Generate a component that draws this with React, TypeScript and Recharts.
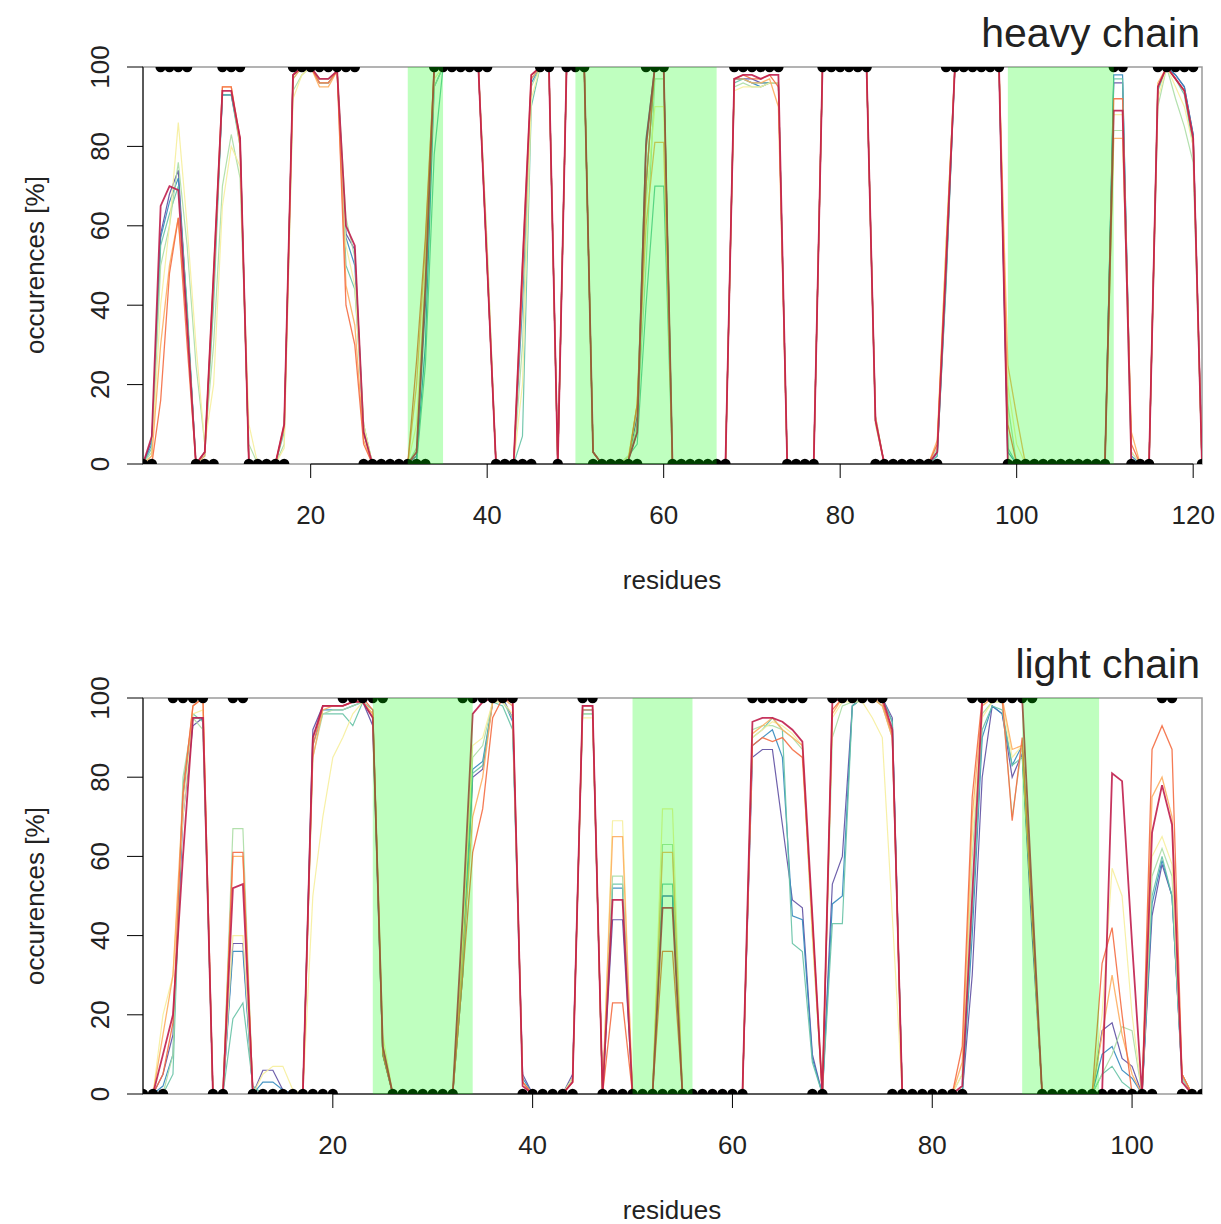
import { ComposedChart, Line, XAxis, YAxis, ReferenceArea, ReferenceLine } from 'recharts';

const FONT = '"Liberation Sans", Arial, sans-serif';

// reference residue state (0 = absent, 100 = present), one value per residue
const heavyRef = [
  0, 0, 100, 100, 100, 100, 0, 0, 0, 100,
  100, 100, 0, 0, 0, 0, 0, 100, 100, 100,
  100, 100, 100, 100, 100, 0, 0, 0, 0, 0,
  0, 0, 0, 100, 100, 100, 100, 100, 100, 100,
  0, 0, 0, 0, 0, 100, 100, 0, 100, 100,
  100, 0, 0, 0, 0, 0, 0, 100, 100, 100,
  0, 0, 0, 0, 0, 0, 0, 100, 100, 100,
  100, 100, 100, 0, 0, 0, 0, 100, 100, 100,
  100, 100, 100, 0, 0, 0, 0, 0, 0, 0,
  0, 100, 100, 100, 100, 100, 100, 100, 0, 0,
  0, 0, 0, 0, 0, 0, 0, 0, 0, 0,
  100, 100, 0, 0, 0, 100, 100, 100, 100, 100, 0,
];

const lightRef = [
  0, 0, 0, 100, 100, 100, 100, 0, 0, 100,
  100, 0, 0, 0, 0, 0, 0, 0, 0, 0,
  100, 100, 100, 100, 100, 0, 0, 0, 0, 0,
  0, 0, 100, 100, 100, 100, 100, 100, 0, 0,
  0, 0, 0, 0, 100, 100, 0, 0, 0, 0,
  0, 0, 0, 0, 0, 0, 0, 0, 0, 0,
  0, 100, 100, 100, 100, 100, 100, 0, 0, 100,
  100, 100, 100, 100, 100, 0, 0, 0, 0, 0,
  0, 0, 0, 100, 100, 100, 100, 100, 100, 100,
  0, 0, 0, 0, 0, 0, 0, 0, 0, 0,
  0, 0, 100, 100, 0, 0, 0,
];

// CDR regions [from, to] in residues
const heavyCdrs = [[31, 35], [50, 66], [99, 111]];
const lightCdrs = [[24, 34], [50, 56], [89, 96.7]];

const heavyTicks = [20, 40, 60, 80, 100, 120];
const lightTicks = [20, 40, 60, 80, 100];
const yTicks = [0, 20, 40, 60, 80, 100];

// heavy chain occurrences per model
const heavyPurple = [
  0, 6, 58, 68, 74, 38, 0, 3, 46, 93,
  93, 82, 0, 0, 0, 0, 9, 98, 100, 100,
  96, 96, 99, 58, 54, 8, 0, 0, 0, 0,
  0, 2, 40, 100, 100, 100, 100, 100, 100, 50,
  0, 0, 0, 45, 97, 100, 100, 0, 100, 100,
  100, 3, 0, 0, 0, 1, 12, 82, 100, 100,
  0, 0, 0, 0, 0, 0, 0, 97, 97, 97,
  96, 96, 96, 0, 0, 0, 0, 100, 100, 100,
  100, 100, 99, 11, 0, 0, 0, 0, 0, 0,
  3, 48, 100, 100, 100, 100, 100, 100, 0, 0,
  0, 0, 0, 0, 0, 0, 0, 0, 0, 0,
  96, 96, 0, 0, 0, 95, 100, 98, 95, 83, 0,
];
const heavyBlue = [
  0, 5, 57, 66, 72, 38, 0, 3, 44, 93,
  93, 81, 0, 0, 0, 0, 9, 98, 100, 100,
  96, 96, 99, 57, 50, 8, 0, 0, 0, 0,
  0, 1, 30, 95, 100, 100, 100, 100, 100, 50,
  0, 0, 0, 40, 96, 100, 100, 0, 100, 100,
  100, 3, 0, 0, 0, 1, 8, 70, 100, 100,
  0, 0, 0, 0, 0, 0, 0, 97, 97, 96,
  95, 96, 96, 0, 0, 0, 0, 100, 100, 100,
  100, 100, 99, 11, 0, 0, 0, 0, 0, 0,
  2, 46, 100, 100, 100, 100, 100, 100, 3, 0,
  0, 0, 0, 0, 0, 0, 0, 0, 0, 0,
  98, 98, 2, 0, 0, 95, 100, 98, 95, 83, 0,
];
const heavyTeal = [
  0, 4, 55, 63, 70, 40, 0, 2, 40, 93,
  93, 80, 0, 0, 0, 0, 8, 97, 100, 100,
  96, 96, 99, 50, 44, 10, 0, 0, 0, 0,
  0, 0, 25, 78, 100, 100, 100, 100, 100, 52,
  0, 0, 0, 7, 90, 100, 100, 0, 100, 100,
  100, 3, 0, 0, 0, 2, 5, 40, 70, 70,
  0, 0, 0, 0, 0, 0, 0, 96, 97, 96,
  96, 96, 96, 0, 0, 0, 0, 100, 100, 100,
  100, 100, 99, 12, 0, 0, 0, 0, 0, 0,
  2, 45, 100, 100, 100, 100, 100, 100, 4, 0,
  0, 0, 0, 0, 0, 0, 0, 0, 0, 0,
  97, 97, 3, 0, 0, 94, 100, 97, 93, 80, 0,
];
const heavyGreen = [
  0, 3, 50, 60, 76, 55, 25, 5, 30, 70,
  83, 72, 5, 0, 0, 0, 5, 94, 98, 100,
  97, 97, 99, 62, 52, 10, 0, 0, 0, 0,
  0, 4, 45, 95, 100, 100, 100, 100, 100, 55,
  0, 0, 0, 30, 95, 100, 100, 0, 100, 100,
  100, 3, 0, 0, 0, 1, 10, 50, 97, 97,
  0, 0, 0, 0, 0, 0, 0, 95, 96, 95,
  95, 96, 96, 0, 0, 0, 0, 100, 100, 100,
  100, 100, 99, 10, 0, 0, 0, 0, 0, 0,
  4, 55, 100, 100, 100, 100, 100, 100, 15, 0,
  0, 0, 0, 0, 0, 0, 0, 0, 0, 0,
  84, 84, 0, 0, 0, 90, 100, 92, 85, 76, 0,
];
const heavyYellow = [
  0, 2, 40, 60, 86, 60, 30, 5, 20, 65,
  80, 75, 10, 0, 0, 0, 4, 92, 98, 100,
  96, 96, 99, 55, 45, 10, 0, 0, 0, 0,
  0, 10, 50, 97, 100, 100, 100, 100, 100, 55,
  0, 0, 0, 20, 92, 100, 100, 0, 100, 100,
  100, 3, 0, 0, 0, 2, 15, 65, 90, 90,
  0, 0, 0, 0, 0, 0, 0, 94, 95, 95,
  95, 96, 96, 0, 0, 0, 0, 100, 100, 100,
  100, 100, 99, 10, 0, 0, 0, 0, 0, 0,
  5, 55, 100, 100, 100, 100, 100, 100, 20, 5,
  0, 0, 0, 0, 0, 0, 0, 0, 0, 0,
  88, 88, 3, 0, 0, 92, 100, 95, 90, 80, 0,
];
const heavyLightOrange = [
  0, 2, 30, 50, 62, 35, 0, 2, 45, 95,
  95, 80, 0, 0, 0, 0, 9, 97, 100, 100,
  95, 95, 99, 45, 35, 6, 0, 0, 0, 0,
  0, 20, 55, 100, 100, 100, 100, 100, 100, 50,
  0, 0, 0, 45, 97, 100, 100, 0, 100, 100,
  100, 3, 0, 0, 0, 1, 15, 60, 81, 81,
  0, 0, 0, 0, 0, 0, 0, 97, 97, 96,
  96, 97, 90, 0, 0, 0, 0, 100, 100, 100,
  100, 100, 99, 12, 0, 0, 0, 0, 0, 0,
  6, 55, 100, 100, 100, 100, 100, 100, 25, 12,
  0, 0, 0, 0, 0, 0, 0, 0, 0, 0,
  82, 82, 8, 0, 0, 96, 100, 97, 94, 82, 0,
];
const heavyOrange = [
  0, 0, 16, 48, 62, 30, 0, 3, 48, 95,
  95, 82, 0, 0, 0, 0, 10, 98, 100, 100,
  96, 96, 99, 40, 30, 5, 0, 0, 0, 0,
  0, 26, 57, 100, 100, 100, 100, 100, 100, 50,
  0, 0, 0, 50, 98, 100, 100, 0, 100, 100,
  100, 3, 0, 0, 0, 1, 15, 70, 100, 100,
  0, 0, 0, 0, 0, 0, 0, 97, 98, 97,
  97, 98, 95, 0, 0, 0, 0, 100, 100, 100,
  100, 100, 99, 11, 0, 0, 0, 0, 0, 0,
  5, 52, 100, 100, 100, 100, 100, 100, 10, 0,
  0, 0, 0, 0, 0, 0, 0, 0, 0, 0,
  92, 92, 5, 0, 0, 95, 100, 97, 94, 82, 0,
];
const heavyCrimson = [
  0, 7, 65, 70, 69, 35, 0, 3, 48, 94,
  94, 82, 0, 0, 0, 0, 10, 98, 100, 100,
  97, 97, 99, 60, 55, 8, 0, 0, 0, 0,
  0, 3, 45, 100, 100, 100, 100, 100, 100, 50,
  0, 0, 0, 50, 98, 100, 100, 0, 100, 100,
  100, 3, 0, 0, 0, 1, 8, 80, 100, 100,
  0, 0, 0, 0, 0, 0, 0, 97, 98, 98,
  97, 98, 98, 0, 0, 0, 0, 100, 100, 100,
  100, 100, 99, 11, 0, 0, 0, 0, 0, 0,
  3, 50, 100, 100, 100, 100, 100, 100, 0, 0,
  0, 0, 0, 0, 0, 0, 0, 0, 0, 0,
  89, 89, 0, 0, 0, 95, 100, 97, 94, 82, 0,
];

// light chain occurrences per model
const lightPurple = [
  0, 0, 5, 15, 70, 93, 95, 0, 0, 38,
  38, 0, 6, 6, 1, 0, 0, 92, 98, 98,
  98, 99, 99, 93, 10, 0, 0, 0, 0, 0,
  0, 0, 30, 80, 82, 99, 100, 95, 5, 0,
  0, 0, 0, 5, 97, 97, 0, 44, 44, 0,
  0, 0, 50, 50, 0, 0, 0, 0, 0, 0,
  0, 85, 87, 87, 68, 49, 47, 10, 0, 53,
  60, 98, 100, 100, 100, 95, 0, 0, 0, 0,
  0, 0, 0, 30, 80, 98, 96, 80, 86, 40,
  0, 0, 0, 0, 0, 0, 16, 18, 9, 7,
  0, 45, 58, 50, 5, 0, 0,
];
const lightBlue = [
  0, 0, 2, 10, 75, 95, 95, 0, 0, 36,
  36, 0, 3, 3, 1, 0, 0, 90, 97, 97,
  97, 98, 99, 95, 10, 0, 0, 0, 0, 0,
  0, 0, 35, 82, 84, 99, 100, 94, 4, 0,
  0, 0, 0, 4, 97, 97, 0, 52, 52, 0,
  0, 0, 50, 50, 0, 0, 0, 0, 0, 0,
  0, 88, 90, 92, 85, 45, 44, 9, 0, 48,
  50, 98, 100, 100, 100, 94, 0, 0, 0, 0,
  0, 0, 0, 40, 90, 98, 96, 83, 88, 45,
  0, 0, 0, 0, 0, 0, 10, 12, 6, 4,
  0, 48, 59, 50, 4, 0, 0,
];
const lightTeal = [
  0, 0, 0, 5, 78, 96, 94, 0, 0, 19,
  23, 2, 0, 0, 0, 0, 0, 88, 96, 96,
  96, 93, 99, 97, 10, 0, 0, 0, 0, 0,
  0, 0, 30, 81, 83, 99, 98, 92, 3, 0,
  0, 0, 0, 4, 96, 96, 0, 53, 53, 0,
  0, 0, 53, 53, 0, 0, 0, 0, 0, 0,
  0, 90, 92, 95, 92, 38, 36, 8, 0, 43,
  43, 98, 100, 100, 100, 94, 0, 0, 0, 0,
  0, 0, 0, 45, 92, 98, 97, 83, 85, 45,
  0, 0, 0, 0, 0, 0, 5, 7, 3, 1,
  0, 50, 60, 50, 5, 0, 0,
];
const lightGreen = [
  0, 0, 0, 10, 80, 95, 92, 0, 0, 67,
  67, 0, 0, 0, 0, 0, 0, 85, 96, 97,
  97, 98, 99, 96, 12, 0, 0, 0, 0, 0,
  0, 0, 40, 85, 88, 99, 99, 95, 3, 0,
  0, 0, 0, 4, 96, 96, 0, 55, 55, 0,
  0, 0, 63, 63, 0, 0, 0, 0, 0, 0,
  0, 92, 93, 93, 92, 90, 87, 40, 0, 90,
  98, 99, 100, 100, 98, 90, 0, 0, 0, 0,
  0, 0, 5, 60, 96, 99, 99, 70, 88, 45,
  0, 0, 0, 0, 0, 0, 5, 10, 17, 16,
  0, 55, 62, 55, 4, 0, 0,
];
const lightYellow = [
  0, 0, 20, 30, 70, 96, 97, 0, 0, 40,
  40, 0, 5, 7, 7, 1, 0, 50, 70, 85,
  90, 96, 99, 96, 15, 0, 0, 0, 0, 0,
  0, 0, 40, 88, 90, 99, 99, 96, 3, 0,
  0, 0, 0, 4, 95, 95, 0, 69, 69, 0,
  0, 0, 72, 72, 0, 0, 0, 0, 0, 0,
  0, 90, 92, 94, 93, 91, 88, 40, 0, 95,
  99, 99, 99, 95, 90, 45, 0, 0, 0, 0,
  0, 0, 5, 65, 95, 99, 99, 85, 88, 45,
  0, 0, 0, 0, 0, 0, 20, 57, 50, 20,
  0, 60, 65, 58, 5, 0, 0,
];
const lightLightOrange = [
  0, 0, 15, 30, 75, 98, 100, 0, 0, 60,
  60, 0, 0, 0, 0, 0, 0, 85, 97, 98,
  98, 99, 99, 96, 12, 0, 0, 0, 0, 0,
  0, 0, 35, 70, 80, 99, 100, 98, 3, 0,
  0, 0, 0, 3, 97, 97, 0, 65, 65, 0,
  0, 0, 61, 61, 0, 0, 0, 0, 0, 0,
  0, 91, 93, 95, 92, 90, 88, 42, 0, 96,
  100, 100, 100, 100, 98, 90, 0, 0, 0, 0,
  0, 0, 8, 70, 98, 100, 100, 87, 88, 45,
  0, 0, 0, 0, 0, 0, 15, 30, 15, 5,
  0, 75, 80, 70, 5, 0, 0,
];
const lightOrange = [
  0, 0, 5, 18, 76, 98, 100, 0, 0, 61,
  61, 0, 0, 0, 0, 0, 0, 88, 98, 98,
  98, 99, 100, 97, 10, 0, 0, 0, 0, 0,
  0, 0, 30, 61, 72, 95, 100, 99, 3, 0,
  0, 0, 0, 3, 98, 98, 0, 23, 23, 0,
  0, 0, 36, 36, 0, 0, 0, 0, 0, 0,
  0, 88, 90, 89, 90, 87, 85, 44, 0, 97,
  100, 100, 100, 100, 99, 91, 0, 0, 0, 0,
  0, 0, 12, 75, 100, 100, 100, 69, 90, 45,
  0, 0, 0, 0, 0, 0, 33, 42, 20, 0,
  0, 87, 93, 87, 5, 0, 0,
];
const lightCrimson = [
  0, 0, 10, 20, 60, 95, 95, 0, 0, 52,
  53, 0, 0, 0, 0, 0, 0, 90, 98, 98,
  98, 99, 99, 95, 12, 0, 0, 0, 0, 0,
  0, 0, 45, 96, 99, 100, 100, 99, 2, 0,
  0, 0, 0, 3, 98, 98, 0, 49, 49, 0,
  0, 0, 47, 47, 0, 0, 0, 0, 0, 0,
  0, 94, 95, 95, 94, 92, 89, 45, 0, 99,
  100, 100, 100, 100, 100, 92, 0, 0, 0, 0,
  0, 0, 2, 50, 99, 100, 100, 100, 100, 50,
  0, 0, 0, 0, 0, 0, 0, 81, 79, 38,
  0, 66, 78, 68, 3, 0, 0,
];

const series = [
  { key: 'purple', color: '#5E4FA2', width: 1.2 },
  { key: 'blue', color: '#3288BD', width: 1.2 },
  { key: 'teal', color: '#66C2A5', width: 1.2 },
  { key: 'green', color: '#ABDDA4', width: 1.2 },
  { key: 'yellow', color: '#F6EE9C', width: 1.2 },
  { key: 'lorange', color: '#FDAE61', width: 1.3 },
  { key: 'orange', color: '#F46D43', width: 1.3 },
  { key: 'crimson', color: '#C01E4C', width: 1.8 },
];

function buildRows(ref: number[], cols: Record<string, number[]>) {
  return ref.map((v, i) => {
    const row: any = { r: i + 1, ref: v };
    for (const k of Object.keys(cols)) row[k] = cols[k][i];
    return row;
  });
}

const heavyRows = buildRows(heavyRef, {
  purple: heavyPurple, blue: heavyBlue, teal: heavyTeal, green: heavyGreen,
  yellow: heavyYellow, lorange: heavyLightOrange, orange: heavyOrange, crimson: heavyCrimson,
});
const lightRows = buildRows(lightRef, {
  purple: lightPurple, blue: lightBlue, teal: lightTeal, green: lightGreen,
  yellow: lightYellow, lorange: lightLightOrange, orange: lightOrange, crimson: lightCrimson,
});

const XTick = (props: any) => {
  const { x, y, payload } = props;
  return (
    <text x={x} y={y + 44} textAnchor="middle" fontSize={26} fontFamily={FONT} fill="#222">
      {payload.value}
    </text>
  );
};

const YTick = (props: any) => {
  const { x, y, payload } = props;
  const bx = x - 16;
  return (
    <text x={bx} y={y} transform={`rotate(-90, ${bx}, ${y})`} textAnchor="middle"
      fontSize={26} fontFamily={FONT} fill="#222">
      {payload.value}
    </text>
  );
};

const RefDot = (props: any) => {
  const { cx, cy, index } = props;
  if (cx == null || cy == null) return <g key={`e${index}`} />;
  return <circle key={`d${index}`} cx={cx} cy={cy} r={5.2} fill="#000" />;
};

function Panel({ rows, n, ticks, cdrs, height, top, xHeight }: any) {
  return (
    <ComposedChart width={1221} height={height} data={rows}
      margin={{ top, right: 19, bottom: 0, left: 0 }}>
      <XAxis type="number" dataKey="r" domain={[1, n]} ticks={ticks} allowDataOverflow
        axisLine={false} tickLine={{ stroke: '#000' }} tickSize={14} height={xHeight}
        tick={<XTick />} interval={0} />
      <YAxis type="number" domain={[0, 100]} ticks={yTicks} width={143} allowDataOverflow
        axisLine={{ stroke: '#000' }} tickLine={{ stroke: '#000' }} tickSize={16}
        tick={<YTick />} interval={0} />
      <ReferenceArea x1={1} x2={n} y1={0} y2={100} fill="none" stroke="#9a9a9a" strokeWidth={1.5} />
      {series.map((s) => (
        <Line key={s.key} type="linear" dataKey={s.key} stroke={s.color} strokeWidth={s.width}
          strokeOpacity={0.9} dot={false} activeDot={false} isAnimationActive={false} />
      ))}
      <Line type="linear" dataKey="ref" stroke="none" dot={<RefDot />} activeDot={false}
        isAnimationActive={false} />
      {cdrs.map((c: number[], i: number) => (
        <ReferenceArea key={i} x1={c[0]} x2={c[1]} y1={0} y2={100} fill="#00FF00"
          fillOpacity={0.25} stroke="none" zIndex={1000} />
      ))}
      <ReferenceLine segment={[{ x: ticks[0], y: 0 }, { x: ticks[ticks.length - 1], y: 0 }]}
        stroke="#000" strokeWidth={1} />
    </ComposedChart>
  );
}

export default function App() {
  return (
    <div style={{ position: 'absolute', left: 0, top: 0, width: 1221, height: 1224, background: '#fff' }}>
      <div style={{ position: 'absolute', left: 0, top: 0 }}>
        <Panel rows={heavyRows} n={121} ticks={heavyTicks} cdrs={heavyCdrs} height={610} top={67} xHeight={146} />
      </div>
      <div style={{ position: 'absolute', left: 0, top: 610 }}>
        <Panel rows={lightRows} n={107} ticks={lightTicks} cdrs={lightCdrs} height={614} top={88} xHeight={130} />
      </div>
      <svg width={1221} height={1224} style={{ position: 'absolute', left: 0, top: 0, pointerEvents: 'none' }}
        fontFamily={FONT} fill="#222">
        <text x={1200} y={47} textAnchor="end" fontSize={41}>heavy chain</text>
        <text x={44} y={265} transform="rotate(-90, 44, 265)" textAnchor="middle" fontSize={26}>occurences [%]</text>
        <text x={672} y={589} textAnchor="middle" fontSize={26}>residues</text>
        <text x={1200} y={678} textAnchor="end" fontSize={41}>light chain</text>
        <text x={44} y={896} transform="rotate(-90, 44, 896)" textAnchor="middle" fontSize={26}>occurences [%]</text>
        <text x={672} y={1219} textAnchor="middle" fontSize={26}>residues</text>
      </svg>
    </div>
  );
}
